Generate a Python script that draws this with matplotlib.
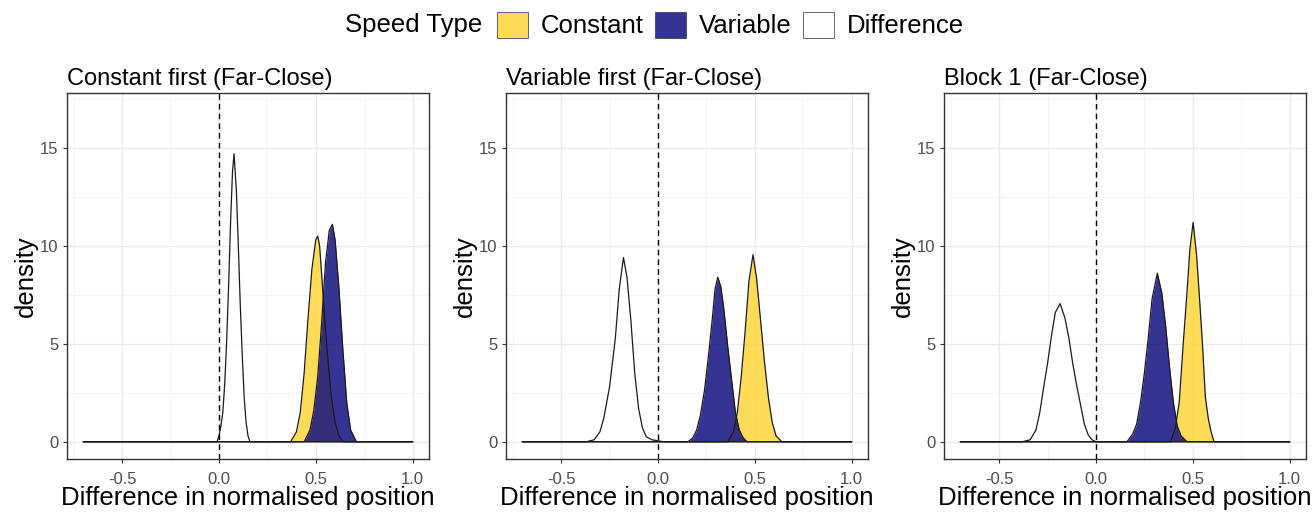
import matplotlib.pyplot as plt
from matplotlib.patches import Patch

plt.rcParams['font.family'] = ['Liberation Sans', 'DejaVu Sans']

panel_titles = ['Constant first (Far-Close)', 'Variable first (Far-Close)', 'Block 1 (Far-Close)']
speed_types = ['Constant', 'Variable', 'Difference']
fill_colors = ['#FFD63A', '#13107F', '#FFFFFF']

x_ticks = [-0.5, 0.0, 0.5, 1.0]
x_ticklabels = ['-0.5', '0.0', '0.5', '1.0']
y_ticks = [0, 5, 10, 15]
y_ticklabels = ['0', '5', '10', '15']

# density curves (x, density)
# panel 1: constant first
cf_con_x = [-0.7, 0.37, 0.40, 0.42, 0.44, 0.46, 0.48, 0.50, 0.51, 0.52, 0.54, 0.56, 0.58, 0.60, 0.62, 0.64, 1.0]
cf_con_y = [0, 0, 0.5, 1.5, 3.5, 6.3, 8.8, 10.3, 10.5, 10.0, 7.2, 4.5, 2.3, 1.0, 0.3, 0, 0]
cf_var_x = [-0.7, 0.44, 0.47, 0.49, 0.51, 0.53, 0.55, 0.57, 0.586, 0.60, 0.62, 0.64, 0.66, 0.68, 0.71, 1.0]
cf_var_y = [0, 0, 0.6, 1.6, 3.3, 6.0, 9.1, 10.8, 11.1, 10.3, 7.8, 4.7, 2.0, 0.6, 0, 0]
cf_dif_x = [-0.7, -0.01, 0.0, 0.01, 0.02, 0.03, 0.04, 0.05, 0.06, 0.07, 0.078, 0.09, 0.10, 0.11, 0.12, 0.13, 0.14, 0.15, 0.16, 1.0]
cf_dif_y = [0, 0, 0.3, 0.8, 1.5, 3.0, 5.2, 8.0, 11.2, 13.8, 14.7, 12.8, 10.0, 7.0, 4.5, 2.3, 1.0, 0.3, 0, 0]

# panel 2: variable first
vf_con_x = [-0.7, 0.36, 0.39, 0.41, 0.43, 0.45, 0.47, 0.491, 0.51, 0.53, 0.55, 0.57, 0.59, 0.61, 0.64, 1.0]
vf_con_y = [0, 0, 0.5, 1.5, 3.3, 5.6, 8.2, 9.55, 8.3, 6.2, 4.1, 2.3, 1.0, 0.3, 0, 0]
vf_var_x = [-0.7, 0.155, 0.18, 0.20, 0.22, 0.24, 0.26, 0.28, 0.295, 0.309, 0.325, 0.34, 0.36, 0.38, 0.40, 0.42, 0.44, 0.46, 1.0]
vf_var_y = [0, 0, 0.2, 0.6, 1.4, 2.6, 4.3, 6.2, 7.8, 8.4, 7.9, 6.8, 4.9, 3.2, 1.5, 0.6, 0.2, 0, 0]
vf_dif_x = [-0.7, -0.37, -0.33, -0.30, -0.28, -0.25, -0.22, -0.20, -0.178, -0.16, -0.14, -0.12, -0.10, -0.08, -0.06, -0.03, 0.0, 0.03, 1.0]
vf_dif_y = [0, 0, 0.1, 0.5, 1.2, 2.8, 5.3, 7.8, 9.4, 8.4, 6.2, 3.5, 1.7, 0.7, 0.25, 0.1, 0.05, 0, 0]

# panel 3: block 1
b1_con_x = [-0.7, 0.385, 0.41, 0.43, 0.45, 0.47, 0.485, 0.502, 0.52, 0.535, 0.55, 0.565, 0.58, 0.595, 0.61, 1.0]
b1_con_y = [0, 0, 0.7, 2.0, 4.9, 7.6, 9.8, 11.2, 9.5, 7.3, 5.0, 2.3, 1.2, 0.5, 0, 0]
b1_var_x = [-0.7, 0.16, 0.19, 0.21, 0.23, 0.25, 0.27, 0.29, 0.317, 0.34, 0.36, 0.38, 0.40, 0.42, 0.44, 0.47, 1.0]
b1_var_y = [0, 0, 0.4, 0.9, 2.0, 3.5, 5.3, 7.3, 8.6, 7.6, 5.9, 3.8, 2.0, 0.8, 0.3, 0, 0]
b1_dif_x = [-0.7, -0.38, -0.34, -0.31, -0.29, -0.27, -0.25, -0.23, -0.21, -0.185, -0.16, -0.14, -0.12, -0.10, -0.08, -0.06, -0.04, -0.02, 0.0, 1.0]
b1_dif_y = [0, 0, 0.1, 0.6, 1.5, 2.8, 4.0, 5.4, 6.6, 7.05, 6.3, 5.3, 4.0, 2.9, 1.9, 0.9, 0.35, 0.1, 0, 0]

panels = [
    [(cf_con_x, cf_con_y), (cf_var_x, cf_var_y), (cf_dif_x, cf_dif_y)],
    [(vf_con_x, vf_con_y), (vf_var_x, vf_var_y), (vf_dif_x, vf_dif_y)],
    [(b1_con_x, b1_con_y), (b1_var_x, b1_var_y), (b1_dif_x, b1_dif_y)],
]

W, H = 1312, 515
fig = plt.figure(figsize=(W / 100, H / 100), dpi=100)
lefts = [67, 506, 944]

for i, curves in enumerate(panels):
    ax = fig.add_axes([lefts[i] / W, (H - 459) / H, 362 / W, 366 / H])
    for (x, y), col in zip(curves, fill_colors):
        ax.fill_between(x, y, 0, color=col, alpha=0.85, lw=0, zorder=2)
        ax.plot(x, y, color='#1a1a1a', lw=0.9, zorder=3)
    ax.axvline(0, color='black', lw=1.0, ls=(0, (4, 3)), zorder=4)

    ax.set_xlim(-0.785, 1.085)
    ax.set_ylim(-0.88, 17.8)
    ax.set_xticks(x_ticks)
    ax.set_xticklabels(x_ticklabels)
    ax.set_yticks(y_ticks)
    ax.set_yticklabels(y_ticklabels)
    ax.set_xticks([-0.75, -0.25, 0.25, 0.75], minor=True)
    ax.set_yticks([2.5, 7.5, 12.5, 17.5], minor=True)
    ax.grid(which='major', color='#EBEBEB', lw=1.0)
    ax.grid(which='minor', color='#F2F2F2', lw=0.6)
    ax.set_axisbelow(True)
    ax.tick_params(which='minor', length=0)
    ax.tick_params(axis='both', which='major', labelsize=12, labelcolor='#4D4D4D',
                   color='#333333', length=3, width=0.8)
    ax.tick_params(axis='x', pad=6)
    ax.tick_params(axis='y', pad=3)
    for s in ax.spines.values():
        s.set_color('#333333')
        s.set_linewidth(1.0)

    ax.set_title(panel_titles[i], loc='left', fontsize=17, pad=6)
    ax.set_xlabel('Difference in normalised position', fontsize=18.5, labelpad=0)
    ax.set_ylabel('density', fontsize=18.5, labelpad=2)

# legend on top
fig.text(345 / W, 1 - 25 / H, 'Speed Type', fontsize=18.5, va='center', ha='left')
handles = [Patch(facecolor=c, edgecolor='#333333', lw=0.6, alpha=0.85) for c in fill_colors]
fig.legend(handles, speed_types, ncol=3, frameon=False, fontsize=18.5,
           loc='center left', bbox_to_anchor=(497 / W, 1 - 25 / H),
           borderpad=0, borderaxespad=0, handlelength=1.2, handleheight=1.2,
           handletextpad=0.5, columnspacing=0.45)

fig.savefig('out.png', dpi=100)
